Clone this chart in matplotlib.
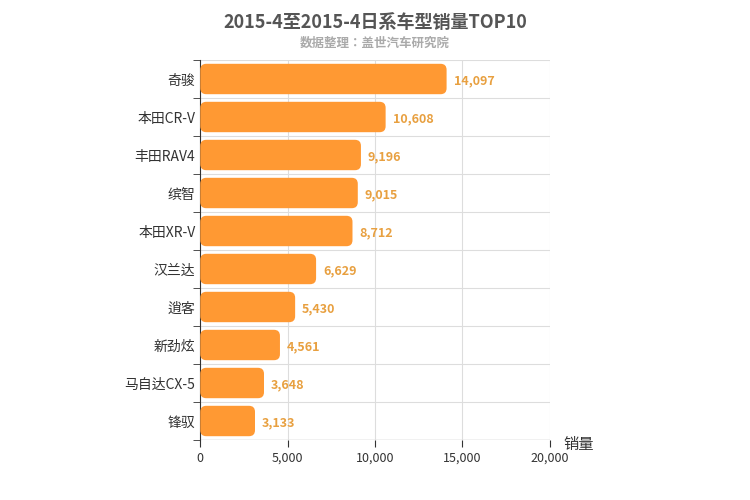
import matplotlib.pyplot as plt
from matplotlib import font_manager as fm
from matplotlib.patches import FancyBboxPatch

# make sure a CJK font is registered
cjk = "DejaVu Sans"
for f in fm.findSystemFonts():
    if "CJK" in f and ("SC" in f or "sc" in f.lower()):
        fm.fontManager.addfont(f)
        cjk = fm.FontProperties(fname=f).get_name()
        break
else:
    for f in fm.findSystemFonts():
        if "CJK" in f:
            fm.fontManager.addfont(f)
            cjk = fm.FontProperties(fname=f).get_name()
            break
plt.rcParams['font.family'] = [cjk, 'DejaVu Sans']

models = ["奇骏", "本田CR-V", "丰田RAV4", "缤智", "本田XR-V", "汉兰达", "逍客", "新劲炫", "马自达CX-5", "锋驭"]
sales = [14097, 10608, 9196, 9015, 8712, 6629, 5430, 4561, 3648, 3133]
xticks = [0, 5000, 10000, 15000, 20000]

fig = plt.figure(figsize=(7.5, 5), dpi=100)
ax = fig.add_axes([0.267, 0.12, 0.466, 0.76])
n = len(models)
ax.set_xlim(0, 20000)
ax.set_ylim(-0.5, n - 0.5)

# per-pixel scales for rounded corners
sx = 20000 / 350
sy = n / 380
for i, (name, v) in enumerate(zip(models, sales)):
    y = n - 1 - i
    box = FancyBboxPatch((0, y - 0.4), v, 0.8,
                         boxstyle="round,pad=0,rounding_size=%f" % (6 * sx),
                         mutation_aspect=sy / sx,
                         fc="#ff9933", ec="none", zorder=3)
    ax.add_patch(box)
    ax.text(v + 400, y - 0.05, f"{v:,}", va="center", ha="left",
            color="#e8a040", fontsize=9, fontweight="bold", zorder=4)

ax.set_yticks(range(n))
ax.set_yticklabels(models[::-1], fontsize=10, color="#333333")
ax.set_yticks([k - 0.5 for k in range(n + 1)], minor=True)
ax.set_xticks(xticks)
ax.set_xticklabels([f"{t:,}" for t in xticks], fontsize=9, color="#333333")
ax.tick_params(axis="y", which="major", length=0)
ax.tick_params(axis="y", which="minor", length=5, color="#333333")
ax.tick_params(axis="x", length=5, color="#333333")
ax.grid(axis="x", color="#dddddd", zorder=0)
ax.grid(axis="y", which="minor", color="#dddddd", zorder=0)
for s in ["top", "right"]:
    ax.spines[s].set_visible(False)
ax.spines["bottom"].set_visible(False)
ax.spines["left"].set_color("#333333")
ax.axhline(-0.5, color="#333333", lw=0.8, zorder=1)
ax.text(1.04, -0.035, "销量", transform=ax.transAxes, fontsize=11, color="#333333", va="bottom")

fig.text(0.5, 0.955, "2015-4至2015-4日系车型销量TOP10", ha="center", va="center",
         fontsize=13, fontweight="bold", color="#555555")
fig.text(0.5, 0.913, "数据整理：盖世汽车研究院", ha="center", va="center",
         fontsize=9, fontweight="bold", color="#aaaaaa")

fig.savefig("out.png")
